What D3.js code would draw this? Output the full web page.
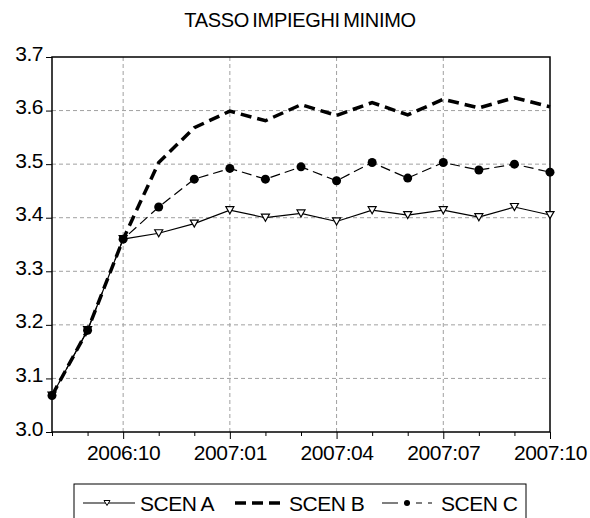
<!DOCTYPE html>
<html>
<head>
<meta charset="utf-8">
<script src="https://cdn.jsdelivr.net/npm/d3@7"></script>
<style>
  body { margin: 0; background: #fff; }
  text { font-family: Arial, "Liberation Sans", sans-serif; fill: #000; }
</style>
</head>
<body>
<div id="chart-area"></div>
<script>
const months = ["2006:08","2006:09","2006:10","2006:11","2006:12","2007:01","2007:02",
  "2007:03","2007:04","2007:05","2007:06","2007:07","2007:08","2007:09","2007:10"];
const scenA = [3.068,3.19,3.36,3.371,3.389,3.414,3.400,3.408,3.393,3.414,3.405,3.414,3.401,3.420,3.405];
const scenB = [3.068,3.19,3.36,3.503,3.568,3.599,3.581,3.611,3.591,3.615,3.592,3.621,3.605,3.624,3.607];
const scenC = [3.068,3.19,3.36,3.420,3.472,3.492,3.472,3.495,3.469,3.503,3.474,3.503,3.489,3.500,3.485];
const xLabels = ["2006:10","2007:01","2007:04","2007:07","2007:10"];
const yTicks = [3.0,3.1,3.2,3.3,3.4,3.5,3.6,3.7];
const seriesNames = ["SCEN A","SCEN B","SCEN C"];

const svgWidth = 590, svgHeight = 518;
const svg = d3.select("#chart-area").append("svg")
  .attr("width", svgWidth).attr("height", svgHeight);

const margin = { left: 52, top: 57, right: 40, bottom: 86 };
const w = svgWidth - margin.left - margin.right;
const h = svgHeight - margin.top - margin.bottom;

const x = d3.scalePoint().domain(months).range([0, w]);
const y = d3.scaleLinear().domain([3.0, 3.7]).range([h, 0]);

svg.append("text")
  .attr("x", 300).attr("y", 27)
  .attr("text-anchor", "middle")
  .attr("font-size", 20).attr("letter-spacing", -0.3).attr("word-spacing", -2)
  .text("TASSO IMPIEGHI MINIMO");

const g = svg.append("g").attr("transform", `translate(${margin.left},${margin.top})`);

// grid
g.selectAll(".hgrid").data(yTicks.slice(1, -1)).enter().append("line")
  .attr("x1", 0).attr("x2", w)
  .attr("y1", d => y(d)).attr("y2", d => y(d))
  .attr("stroke", "#a0a0a0").attr("stroke-dasharray", "4,3");
g.selectAll(".vgrid").data(xLabels.slice(0, -1)).enter().append("line")
  .attr("x1", d => x(d)).attr("x2", d => x(d))
  .attr("y1", 0).attr("y2", h)
  .attr("stroke", "#a0a0a0").attr("stroke-dasharray", "4,3");

// axes
const yAxis = g.append("g")
  .call(d3.axisLeft(y).tickValues(yTicks).tickFormat(d3.format(".1f")).tickSize(6).tickPadding(3));
yAxis.selectAll("text").attr("font-size", 21).attr("letter-spacing", -0.5).attr("dy", 3);

const xAxis = g.append("g").attr("transform", `translate(0,${h})`)
  .call(d3.axisBottom(x).tickSize(4).tickPadding(9)
    .tickFormat(d => xLabels.includes(d) ? d : ""));
xAxis.selectAll("text").attr("font-size", 21).attr("letter-spacing", -0.4).attr("dy", "0.72em");
xAxis.selectAll(".tick line").filter(d => xLabels.includes(d)).attr("y2", 7);

[yAxis, xAxis].forEach(a => {
  a.select(".domain").remove();
  a.selectAll("line").attr("stroke", "#000");
});

// frame
g.append("rect").attr("width", w).attr("height", h)
  .attr("fill", "none").attr("stroke", "#000").attr("stroke-width", 1.5);

const line = d3.line().x((d, i) => x(months[i])).y(d => y(d));

// SCEN A
g.append("path").datum(scenA).attr("d", line)
  .attr("fill", "none").attr("stroke", "#000").attr("stroke-width", 1.2);
// SCEN B
g.append("path").datum(scenB).attr("d", line)
  .attr("fill", "none").attr("stroke", "#000").attr("stroke-width", 3.5)
  .attr("stroke-dasharray", "11,6");
// SCEN C
g.append("path").datum(scenC).attr("d", line)
  .attr("fill", "none").attr("stroke", "#000").attr("stroke-width", 1.2)
  .attr("stroke-dasharray", "10,5");

const tri = "M-4,-3.5L4,-3.5L0,3.5Z";
g.selectAll(".markA").data(scenA).enter().append("path")
  .attr("d", tri)
  .attr("transform", (d, i) => `translate(${x(months[i])},${y(d)})`)
  .attr("fill", "#fff").attr("stroke", "#000").attr("stroke-width", 1.2);
g.selectAll(".markC").data(scenC).enter().append("circle")
  .attr("cx", (d, i) => x(months[i])).attr("cy", d => y(d)).attr("r", 4.5)
  .attr("fill", "#000");

// legend
const leg = svg.append("g");
leg.append("rect").attr("x", 74).attr("y", 484).attr("width", 452).attr("height", 50)
  .attr("fill", "#fff").attr("stroke", "#000").attr("stroke-width", 1);
const ly = 503;
// A
leg.append("line").attr("x1", 83).attr("x2", 135).attr("y1", ly).attr("y2", ly)
  .attr("stroke", "#000").attr("stroke-width", 1.2);
leg.append("path").attr("d", "M-3,-2.5L3,-2.5L0,2.5Z").attr("transform", `translate(107,${ly})`)
  .attr("fill", "#fff").attr("stroke", "#000");
// B
leg.append("line").attr("x1", 235).attr("x2", 280).attr("y1", ly).attr("y2", ly)
  .attr("stroke", "#000").attr("stroke-width", 3.5).attr("stroke-dasharray", "11,6");
// C
leg.append("line").attr("x1", 382).attr("x2", 432).attr("y1", ly).attr("y2", ly)
  .attr("stroke", "#000").attr("stroke-width", 1.2).attr("stroke-dasharray", "16,6,6,6,6,6");
leg.append("circle").attr("cx", 407).attr("cy", ly).attr("r", 3).attr("fill", "#000");

const textX = [140, 289, 441];
leg.selectAll(".lt").data(seriesNames).enter().append("text")
  .attr("x", (d, i) => textX[i]).attr("y", 511)
  .attr("font-size", 21).attr("letter-spacing", -0.5)
  .text(d => d);
</script>
</body>
</html>
